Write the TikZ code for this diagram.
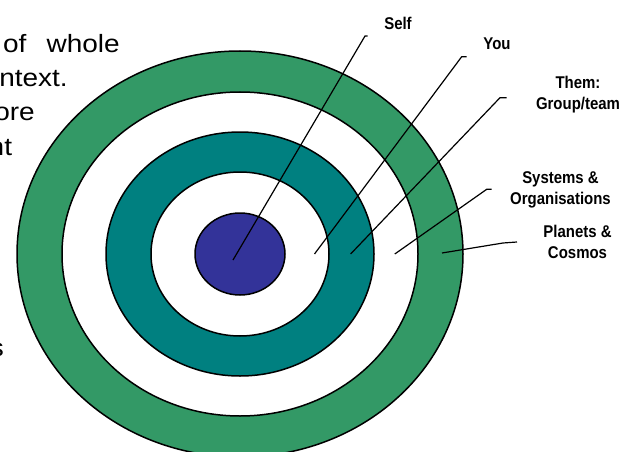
\documentclass[tikz,border=0pt]{standalone}
\usepackage{fontspec}
\setmainfont{Liberation Sans}
\usepackage{tikz}
\definecolor{ringgreen}{RGB}{51,153,102}
\definecolor{ringteal}{RGB}{0,128,128}
\definecolor{corepurple}{RGB}{51,51,153}
\tikzset{ring/.style={draw=black,line width=1.5pt},
lbl/.style={font=\fontsize{17}{21}\selectfont\bfseries,align=center,xscale=0.88,inner sep=0pt},
bodytext/.style={font=\fontsize{25}{30}\selectfont,anchor=base east,xscale=1.12,inner sep=0pt},
leader/.style={line width=1.2pt}}
\begin{document}
\begin{tikzpicture}[x=1pt,y=-1pt]
\useasboundingbox(0,0)rectangle(632,452);
\begin{scope}
\clip(0,0)rectangle(632,452);
\node[bodytext](t1)at(120,53){of\hspace{18pt}whole};
\node[bodytext](t2)at(68,86.5){ntext.};
\node[bodytext](t3)at(35,120.5){ore};
\node[bodytext](t4)at(12.3,155){nt};
\node[bodytext](t5)at(4,356){s};
\draw[ring,fill=ringgreen](240,254)ellipse[x radius=223pt,y radius=203pt];
\draw[ring,fill=white](240,254)ellipse[x radius=178pt,y radius=162pt];
\draw[ring,fill=ringteal](240,254)ellipse[x radius=134pt,y radius=122pt];
\draw[ring,fill=white](240,254)ellipse[x radius=89pt,y radius=82pt];
\draw[ring,fill=corepurple](240,254)ellipse[x radius=45pt,y radius=41pt];
\end{scope}
\node[lbl](self)at(398,23.5){Self};
\node[lbl](you)at(497,44){You};
\node[lbl](them)at(578,95){Them:\\Group/team};
\node[lbl](systems)at(560.5,190){Systems \&\\Organisations};
\node[lbl](planets)at(577.5,241.7){Planets \&\\Cosmos};
\coordinate(selfin)at(233,260);
\coordinate(youin)at(314.5,254);
\coordinate(themin)at(350.6,254);
\coordinate(systemsin)at(394.8,254);
\coordinate(planetsin)at(442,253);
\draw[leader](selfin)--(365,36)--++(2.5,0);
\draw[leader](youin)--(461.7,56.7)--++(5,0);
\draw[leader](themin)--(500,97.7)--++(6.7,0);
\draw[leader](systemsin)--(486.7,189.3)--++(5,0);
\draw[leader](planetsin)--(503,243)--(517,242);
\end{tikzpicture}
\end{document}
